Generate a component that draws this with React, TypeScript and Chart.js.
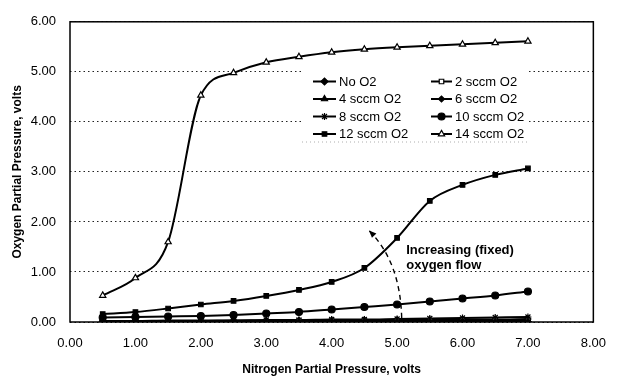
import React, { useEffect, useRef } from 'react';
import { Chart, registerables } from 'chart.js';
import { drawPoint } from 'chart.js/helpers';

Chart.register(...registerables);

// ---- data ----
const nitrogen = [0.5, 1.0, 1.5, 2.0, 2.5, 3.0, 3.5, 4.0, 4.5, 5.0, 5.5, 6.0, 6.5, 7.0];
const noO2 = [0.0, 0.0, 0.0, 0.0, 0.0, 0.0, 0.0, 0.0, 0.0, 0.0, 0.0, 0.0, 0.0, 0.0];
const sccm2 = [0.01, 0.01, 0.01, 0.01, 0.01, 0.01, 0.02, 0.02, 0.02, 0.02, 0.02, 0.03, 0.03, 0.03];
const sccm4 = [0.01, 0.01, 0.02, 0.02, 0.02, 0.02, 0.02, 0.03, 0.03, 0.03, 0.03, 0.04, 0.04, 0.04];
const sccm6 = [0.02, 0.02, 0.02, 0.02, 0.03, 0.03, 0.03, 0.03, 0.04, 0.04, 0.04, 0.05, 0.05, 0.06];
const sccm8 = [0.02, 0.02, 0.03, 0.03, 0.03, 0.04, 0.04, 0.05, 0.05, 0.06, 0.07, 0.08, 0.09, 0.10];
const sccm10 = [0.09, 0.10, 0.11, 0.12, 0.14, 0.17, 0.20, 0.25, 0.30, 0.35, 0.41, 0.47, 0.53, 0.61];
const sccm12 = [0.16, 0.20, 0.27, 0.35, 0.42, 0.52, 0.64, 0.80, 1.08, 1.68, 2.42, 2.74, 2.94, 3.07];
const sccm14 = [0.53, 0.88, 1.60, 4.53, 4.98, 5.19, 5.30, 5.39, 5.45, 5.49, 5.52, 5.55, 5.58, 5.61];

const seriesNames = ['No O2', '2 sccm O2', '4 sccm O2', '6 sccm O2', '8 sccm O2', '10 sccm O2', '12 sccm O2', '14 sccm O2'];
const seriesValues = [noO2, sccm2, sccm4, sccm6, sccm8, sccm10, sccm12, sccm14];
const seriesMarkers = ['rectRot', 'rect', 'triangle', 'rectRot', 'star', 'circle', 'rect', 'triangle'];
const seriesOpen = [false, true, false, false, false, false, false, true];
const seriesRadius = [3.5, 3.2, 3.5, 3, 3.5, 3.5, 3.2, 3.6];

const xTitle = 'Nitrogen Partial Pressure, volts';
const yTitle = 'Oxygen Partial Pressure, volts';
const annotationLines = ['Increasing (fixed)', 'oxygen flow'];

const FONT = '"Liberation Sans", Arial, Helvetica, sans-serif';

const overlayPlugin = {
  id: 'overlay',
  afterDraw(chart: any) {
    const ctx = chart.ctx;
    const area = chart.chartArea;
    const xs = chart.scales.x;
    const ys = chart.scales.y;
    ctx.save();

    // frame
    ctx.strokeStyle = '#000';
    ctx.lineWidth = 1.5;
    ctx.setLineDash([]);
    ctx.strokeRect(area.left, area.top, area.right - area.left, area.bottom - area.top);

    // legend box
    const bx = 302, by = 70, bw = 226, bh = 72;
    ctx.fillStyle = '#fff';
    ctx.fillRect(bx, by, bw, bh);
    ctx.strokeStyle = '#999';
    ctx.lineWidth = 0.8;
    ctx.setLineDash([1, 3]);
    ctx.beginPath();
    ctx.moveTo(bx, by + bh);
    ctx.lineTo(bx + bw, by + bh);
    ctx.stroke();
    ctx.setLineDash([]);

    const rows = [81.5, 99, 116.5, 134];
    const cols = [
      { l0: 313, l1: 336, tx: 339 },
      { l0: 431, l1: 452, tx: 455 },
    ];
    ctx.font = '13px ' + FONT;
    ctx.textBaseline = 'middle';
    ctx.textAlign = 'left';
    seriesNames.forEach((name, i) => {
      const col = cols[i % 2];
      const row = rows[Math.floor(i / 2)];
      ctx.strokeStyle = '#000';
      ctx.lineWidth = 2;
      ctx.beginPath();
      ctx.moveTo(col.l0, row);
      ctx.lineTo(col.l1, row);
      ctx.stroke();
      ctx.fillStyle = seriesOpen[i] ? '#fff' : '#000';
      ctx.strokeStyle = '#000';
      ctx.lineWidth = 1.2;
      drawPoint(ctx, { pointStyle: seriesMarkers[i], radius: seriesRadius[i], rotation: 0, borderWidth: 1.2 } as any, (col.l0 + col.l1) / 2, row);
      ctx.fillStyle = '#000';
      ctx.fillText(name, col.tx, row + 0.5);
    });

    // annotation arrow (dashed curve)
    const p0x = xs.getPixelForValue(5.07), p0y = ys.getPixelForValue(0.08);
    const cx = xs.getPixelForValue(5.05), cy = ys.getPixelForValue(1.2);
    const p2x = xs.getPixelForValue(4.57), p2y = ys.getPixelForValue(1.83);
    ctx.strokeStyle = '#000';
    ctx.lineWidth = 1.4;
    ctx.setLineDash([5, 4]);
    ctx.beginPath();
    ctx.moveTo(p0x, p0y);
    ctx.quadraticCurveTo(cx, cy, p2x, p2y);
    ctx.stroke();
    ctx.setLineDash([]);
    // arrow head
    const ang = Math.atan2(p2y - cy, p2x - cx);
    const hl = 8;
    ctx.fillStyle = '#000';
    ctx.beginPath();
    ctx.moveTo(p2x, p2y);
    ctx.lineTo(p2x - hl * Math.cos(ang - 0.4), p2y - hl * Math.sin(ang - 0.4));
    ctx.lineTo(p2x - hl * Math.cos(ang + 0.4), p2y - hl * Math.sin(ang + 0.4));
    ctx.closePath();
    ctx.fill();

    // annotation text
    ctx.font = 'bold 13px ' + FONT;
    ctx.textAlign = 'left';
    ctx.textBaseline = 'middle';
    const tx = xs.getPixelForValue(5.14);
    ctx.fillText(annotationLines[0], tx, ys.getPixelForValue(1.44));
    ctx.fillText(annotationLines[1], tx, ys.getPixelForValue(1.14));

    ctx.restore();
  },
};

export default function App() {
  const ref = useRef<HTMLCanvasElement>(null);
  useEffect(() => {
    document.body.style.margin = '0';
    const canvas = ref.current!;
    const chart = new Chart(canvas, {
      type: 'line',
      data: {
        datasets: seriesNames.map((name, i) => ({
          label: name,
          data: nitrogen.map((x, j) => ({ x, y: seriesValues[i][j] })),
          borderColor: '#000',
          borderWidth: 2,
          pointStyle: seriesMarkers[i] as any,
          pointRadius: seriesRadius[i],
          pointBorderWidth: 1.2,
          pointBackgroundColor: seriesOpen[i] ? '#fff' : '#000',
          pointBorderColor: '#000',
          cubicInterpolationMode: 'monotone' as const,
          fill: false,
        })),
      },
      options: {
        responsive: false,
        animation: false,
        devicePixelRatio: 1,
        layout: { padding: { top: 14, right: 16, left: 0, bottom: 0 } },
        plugins: { legend: { display: false }, tooltip: { enabled: false } },
        scales: {
          x: {
            type: 'linear',
            min: 0,
            max: 8,
            afterFit: (s: any) => { s.height = 57; },
            ticks: {
              stepSize: 1,
              padding: 14,
              color: '#000',
              font: { family: FONT, size: 13 },
              callback: (v: any) => Number(v).toFixed(2),
              maxRotation: 0,
            },
            grid: { display: false, drawTicks: false },
            border: { display: false },
            title: {
              display: true,
              text: xTitle,
              color: '#000',
              font: { family: FONT, size: 12, weight: 'bold' },
              padding: { top: 0, bottom: 2 },
            },
          },
          y: {
            type: 'linear',
            min: 0,
            max: 6,
            afterFit: (s: any) => { s.width = 70; },
            ticks: {
              stepSize: 1,
              padding: 14,
              color: '#000',
              font: { family: FONT, size: 13 },
              callback: (v: any) => Number(v).toFixed(2),
            },
            grid: { display: true, drawTicks: false, color: '#222', lineWidth: 1 },
            border: { display: false, dash: [1.5, 3] },
            title: {
              display: true,
              text: yTitle,
              color: '#000',
              font: { family: FONT, size: 12, weight: 'bold' },
              padding: { top: 10, bottom: 0 },
            },
          },
        },
      },
      plugins: [overlayPlugin],
    });
    return () => chart.destroy();
  }, []);
  return (
    <div style={{ position: 'absolute', left: 0, top: 0, width: 620, height: 379, background: '#fff' }}>
      <canvas ref={ref} width={620} height={379} />
    </div>
  );
}
